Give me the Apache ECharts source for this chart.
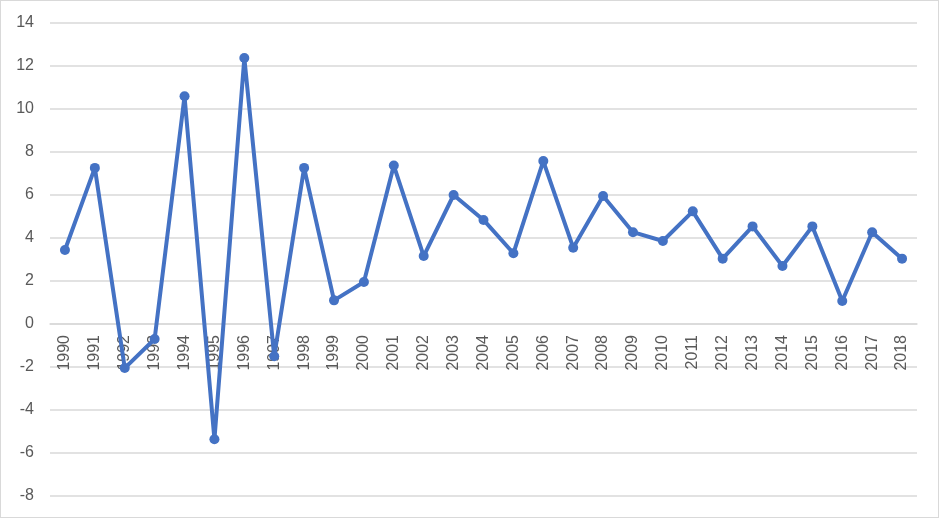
<!DOCTYPE html>
<html>
<head>
<meta charset="utf-8">
<script src="https://cdn.jsdelivr.net/npm/echarts@6/dist/echarts.min.js"></script>
<style>
html,body{margin:0;padding:0;background:#fff;}
#chart{width:937px;height:516px;border:1px solid #d9d9d9;}
</style>
</head>
<body>
<div id="chart"></div>
<script>
const years = ['1990','1991','1992','1993','1994','1995','1996','1997','1998','1999','2000','2001','2002','2003','2004','2005','2006','2007','2008','2009','2010','2011','2012','2013','2014','2015','2016','2017','2018'];
const values = [3.44,7.26,-2.05,-0.7,10.59,-5.36,12.37,-1.5,7.26,1.10,1.95,7.37,3.16,6.0,4.84,3.29,7.58,3.55,5.95,4.27,3.86,5.24,3.04,4.54,2.70,4.54,1.07,4.27,3.04];
const yMin = -8, yMax = 14, yStep = 2;

const gridTop = 22, gridBottom = 21, chartH = 516;
const gridH = chartH - gridTop - gridBottom;
const zeroOffset = -gridH * (0 - yMin) / (yMax - yMin);

const chart = echarts.init(document.getElementById('chart'), null, {renderer:'canvas'});
chart.setOption({
  animation:false,
  grid:{left:49,right:21,top:gridTop,bottom:gridBottom,containLabel:false,outerBoundsMode:'none'},
  xAxis:{
    type:'category',
    data:years,
    boundaryGap:true,
    position:'bottom',
    offset:zeroOffset,
    axisLine:{show:true,onZero:false,lineStyle:{color:'#d9d9d9',width:1.5}},
    axisTick:{show:false},
    axisLabel:{rotate:90,margin:11,color:'#595959',fontSize:16,fontFamily:'Liberation Sans, Arial, sans-serif',interval:0}
  },
  yAxis:{
    type:'value',
    min:yMin,max:yMax,interval:yStep,
    axisLine:{show:false},
    axisTick:{show:false},
    splitLine:{lineStyle:{color:'#d9d9d9',width:1.5}},
    axisLabel:{margin:16,color:'#595959',fontSize:16,fontFamily:'Liberation Sans, Arial, sans-serif'}
  },
  series:[{
    type:'line',
    data:values,
    symbol:'circle',
    symbolSize:10,
    lineStyle:{color:'#4472C4',width:4},
    itemStyle:{color:'#4472C4'},
    z:5
  }]
});
</script>
</body>
</html>
